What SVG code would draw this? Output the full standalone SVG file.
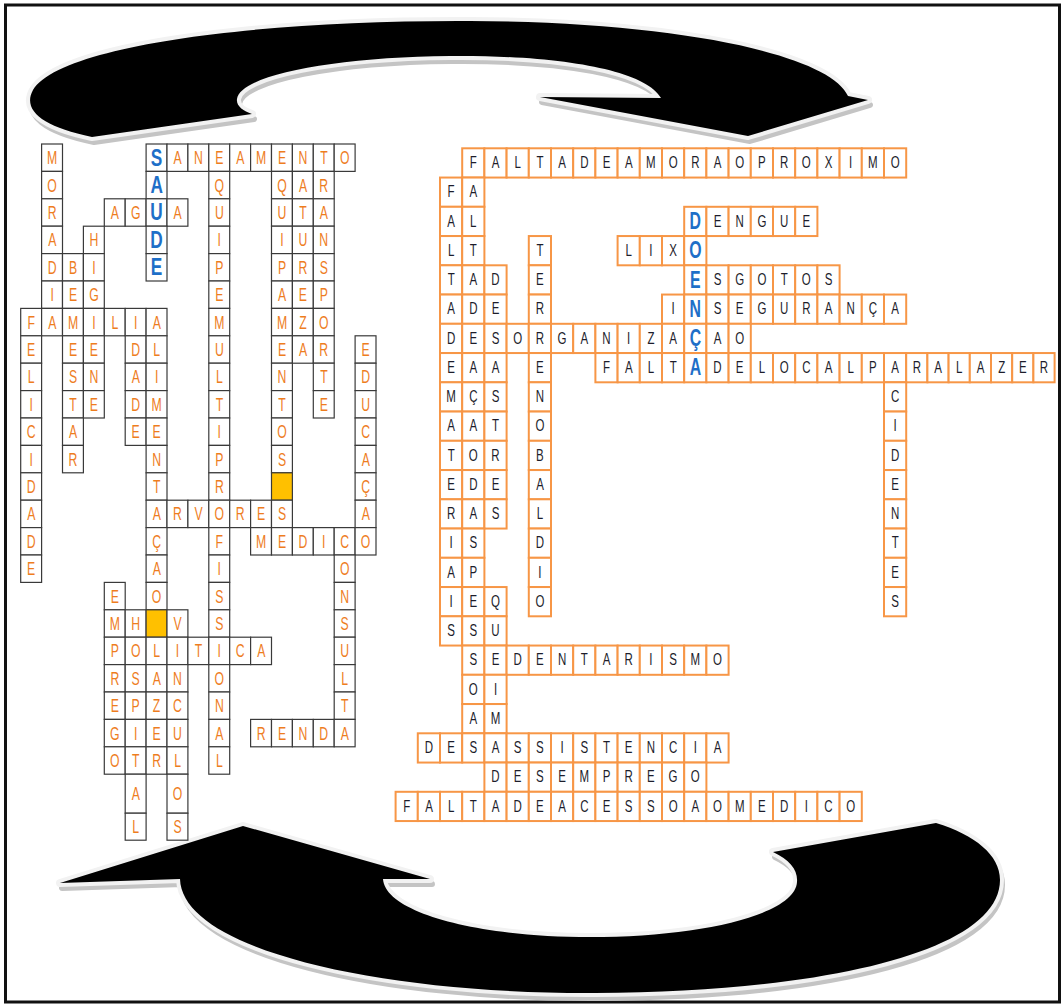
<svg xmlns="http://www.w3.org/2000/svg" xmlns:xlink="http://www.w3.org/1999/xlink" width="1063" height="1005" viewBox="0 0 1063 1005">
<style>
.L rect{width:20.9px;height:27.4px;fill:#fff;stroke:#3a3a3a;stroke-width:1.2}
.L rect.o{fill:#FFC000}
.L text{font-family:"Liberation Sans",Arial,sans-serif;font-size:18px;fill:#EE7D1E;text-anchor:middle;dominant-baseline:central;transform-box:fill-box;transform-origin:center;transform:scaleX(0.68)}
.L text.b{font-weight:bold;font-size:23px;fill:#1E6FC8;transform:scaleX(0.75)}
.R rect{width:22.2px;height:29.25px;fill:#fff;stroke:#F79646;stroke-width:2}
.R text{font-family:"Liberation Sans",Arial,sans-serif;font-size:16px;fill:#1d1d2b;text-anchor:middle;dominant-baseline:central;transform-box:fill-box;transform-origin:center;transform:scaleX(0.72)}
.R text.b{font-weight:bold;font-size:24px;fill:#1E6FC8;transform:scaleX(0.66)}
</style>
<defs>
<path id="ta" d="M 92 137 C 42 127 22 110 33 90 C 60 45 260 20 470 21 C 680 22 830 55 848 96 L 868 100 L 748 136 L 540 97 L 661 98 C 645 70 560 55 450 56 C 335 57 240 75 237 99 C 236 106 243 111 252 114 Z"/>
<path id="ba" d="M 180 879 C 182 950 380 994 595 993 C 830 992 1000 950 1000 880 C 1000 855 975 835 936 823 L 773 852 C 790 860 798 870 797 882 C 795 915 700 937 590 937 C 475 937 385 912 383 879 L 430 879 L 243 826 L 60 883 Z"/>
</defs>
<rect x="0" y="0" width="1063" height="1005" fill="#fff"/>
<rect id="frame" x="5.5" y="5" width="1054" height="997" fill="none" stroke="#111" stroke-width="3"/>
<g id="arrow-top">
<use href="#ta" transform="translate(2,5)" fill="#c4c4c4" stroke="#c4c4c4" stroke-width="6" stroke-linejoin="round"/>
<use href="#ta" fill="#fff" stroke="#f2f2f2" stroke-width="8" stroke-linejoin="round"/>
<use href="#ta" fill="#000"/>
</g>
<g id="arrow-bottom">
<use href="#ba" transform="translate(2,5)" fill="#c4c4c4" stroke="#c4c4c4" stroke-width="6" stroke-linejoin="round"/>
<use href="#ba" fill="#fff" stroke="#f2f2f2" stroke-width="8" stroke-linejoin="round"/>
<use href="#ba" fill="#000"/>
</g>
<g id="crossword-saude" class="L">
<g id="l-r0" transform="translate(0,144)">
<rect x="41.6"/><rect x="146.1"/><rect x="167"/><rect x="187.9"/><rect x="208.8"/><rect x="229.7"/><rect x="250.6"/><rect x="271.5"/><rect x="292.4"/><rect x="313.3"/><rect x="334.2"/>
<text x="52.1" y="13.7">M</text><text class="b" x="156.6" y="13.7">S</text><text x="177.5" y="13.7">A</text><text x="198.4" y="13.7">N</text><text x="219.3" y="13.7">E</text><text x="240.2" y="13.7">A</text><text x="261.1" y="13.7">M</text><text x="282" y="13.7">E</text><text x="302.9" y="13.7">N</text><text x="323.8" y="13.7">T</text><text x="344.7" y="13.7">O</text>
</g>
<g id="l-r1" transform="translate(0,171.4)">
<rect x="41.6"/><rect x="146.1"/><rect x="208.8"/><rect x="271.5"/><rect x="292.4"/><rect x="313.3"/>
<text x="52.1" y="13.7">O</text><text class="b" x="156.6" y="13.7">A</text><text x="219.3" y="13.7">Q</text><text x="282" y="13.7">Q</text><text x="302.9" y="13.7">A</text><text x="323.8" y="13.7">R</text>
</g>
<g id="l-r2" transform="translate(0,198.8)">
<rect x="41.6"/><rect x="104.3"/><rect x="125.2"/><rect x="146.1"/><rect x="167"/><rect x="208.8"/><rect x="271.5"/><rect x="292.4"/><rect x="313.3"/>
<text x="52.1" y="13.7">R</text><text x="114.8" y="13.7">A</text><text x="135.7" y="13.7">G</text><text class="b" x="156.6" y="13.7">U</text><text x="177.5" y="13.7">A</text><text x="219.3" y="13.7">U</text><text x="282" y="13.7">U</text><text x="302.9" y="13.7">T</text><text x="323.8" y="13.7">A</text>
</g>
<g id="l-r3" transform="translate(0,226.2)">
<rect x="41.6"/><rect x="83.4"/><rect x="146.1"/><rect x="208.8"/><rect x="271.5"/><rect x="292.4"/><rect x="313.3"/>
<text x="52.1" y="13.7">A</text><text x="93.9" y="13.7">H</text><text class="b" x="156.6" y="13.7">D</text><text x="219.3" y="13.7">I</text><text x="282" y="13.7">I</text><text x="302.9" y="13.7">U</text><text x="323.8" y="13.7">N</text>
</g>
<g id="l-r4" transform="translate(0,253.6)">
<rect x="41.6"/><rect x="62.5"/><rect x="83.4"/><rect x="146.1"/><rect x="208.8"/><rect x="271.5"/><rect x="292.4"/><rect x="313.3"/>
<text x="52.1" y="13.7">D</text><text x="73" y="13.7">B</text><text x="93.9" y="13.7">I</text><text class="b" x="156.6" y="13.7">E</text><text x="219.3" y="13.7">P</text><text x="282" y="13.7">P</text><text x="302.9" y="13.7">R</text><text x="323.8" y="13.7">S</text>
</g>
<g id="l-r5" transform="translate(0,281)">
<rect x="41.6"/><rect x="62.5"/><rect x="83.4"/><rect x="208.8"/><rect x="271.5"/><rect x="292.4"/><rect x="313.3"/>
<text x="52.1" y="13.7">I</text><text x="73" y="13.7">E</text><text x="93.9" y="13.7">G</text><text x="219.3" y="13.7">E</text><text x="282" y="13.7">A</text><text x="302.9" y="13.7">E</text><text x="323.8" y="13.7">P</text>
</g>
<g id="l-r6" transform="translate(0,308.4)">
<rect x="20.7"/><rect x="41.6"/><rect x="62.5"/><rect x="83.4"/><rect x="104.3"/><rect x="125.2"/><rect x="146.1"/><rect x="208.8"/><rect x="271.5"/><rect x="292.4"/><rect x="313.3"/>
<text x="31.2" y="13.7">F</text><text x="52.1" y="13.7">A</text><text x="73" y="13.7">M</text><text x="93.9" y="13.7">I</text><text x="114.8" y="13.7">L</text><text x="135.7" y="13.7">I</text><text x="156.6" y="13.7">A</text><text x="219.3" y="13.7">M</text><text x="282" y="13.7">M</text><text x="302.9" y="13.7">Z</text><text x="323.8" y="13.7">O</text>
</g>
<g id="l-r7" transform="translate(0,335.8)">
<rect x="20.7"/><rect x="62.5"/><rect x="83.4"/><rect x="125.2"/><rect x="146.1"/><rect x="208.8"/><rect x="271.5"/><rect x="292.4"/><rect x="313.3"/><rect x="355.1"/>
<text x="31.2" y="13.7">E</text><text x="73" y="13.7">E</text><text x="93.9" y="13.7">E</text><text x="135.7" y="13.7">D</text><text x="156.6" y="13.7">L</text><text x="219.3" y="13.7">U</text><text x="282" y="13.7">E</text><text x="302.9" y="13.7">A</text><text x="323.8" y="13.7">R</text><text x="365.6" y="13.7">E</text>
</g>
<g id="l-r8" transform="translate(0,363.2)">
<rect x="20.7"/><rect x="62.5"/><rect x="83.4"/><rect x="125.2"/><rect x="146.1"/><rect x="208.8"/><rect x="271.5"/><rect x="313.3"/><rect x="355.1"/>
<text x="31.2" y="13.7">L</text><text x="73" y="13.7">S</text><text x="93.9" y="13.7">N</text><text x="135.7" y="13.7">A</text><text x="156.6" y="13.7">I</text><text x="219.3" y="13.7">L</text><text x="282" y="13.7">N</text><text x="323.8" y="13.7">T</text><text x="365.6" y="13.7">D</text>
</g>
<g id="l-r9" transform="translate(0,390.6)">
<rect x="20.7"/><rect x="62.5"/><rect x="83.4"/><rect x="125.2"/><rect x="146.1"/><rect x="208.8"/><rect x="271.5"/><rect x="313.3"/><rect x="355.1"/>
<text x="31.2" y="13.7">I</text><text x="73" y="13.7">T</text><text x="93.9" y="13.7">E</text><text x="135.7" y="13.7">D</text><text x="156.6" y="13.7">M</text><text x="219.3" y="13.7">T</text><text x="282" y="13.7">T</text><text x="323.8" y="13.7">E</text><text x="365.6" y="13.7">U</text>
</g>
<g id="l-r10" transform="translate(0,418)">
<rect x="20.7"/><rect x="62.5"/><rect x="125.2"/><rect x="146.1"/><rect x="208.8"/><rect x="271.5"/><rect x="355.1"/>
<text x="31.2" y="13.7">C</text><text x="73" y="13.7">A</text><text x="135.7" y="13.7">E</text><text x="156.6" y="13.7">E</text><text x="219.3" y="13.7">I</text><text x="282" y="13.7">O</text><text x="365.6" y="13.7">C</text>
</g>
<g id="l-r11" transform="translate(0,445.4)">
<rect x="20.7"/><rect x="62.5"/><rect x="146.1"/><rect x="208.8"/><rect x="271.5"/><rect x="355.1"/>
<text x="31.2" y="13.7">I</text><text x="73" y="13.7">R</text><text x="156.6" y="13.7">N</text><text x="219.3" y="13.7">P</text><text x="282" y="13.7">S</text><text x="365.6" y="13.7">A</text>
</g>
<g id="l-r12" transform="translate(0,472.8)">
<rect x="20.7"/><rect x="146.1"/><rect x="208.8"/><rect class="o" x="271.5"/><rect x="355.1"/>
<text x="31.2" y="13.7">D</text><text x="156.6" y="13.7">T</text><text x="219.3" y="13.7">R</text><text x="365.6" y="13.7">Ç</text>
</g>
<g id="l-r13" transform="translate(0,500.2)">
<rect x="20.7"/><rect x="146.1"/><rect x="167"/><rect x="187.9"/><rect x="208.8"/><rect x="229.7"/><rect x="250.6"/><rect x="271.5"/><rect x="355.1"/>
<text x="31.2" y="13.7">A</text><text x="156.6" y="13.7">A</text><text x="177.5" y="13.7">R</text><text x="198.4" y="13.7">V</text><text x="219.3" y="13.7">O</text><text x="240.2" y="13.7">R</text><text x="261.1" y="13.7">E</text><text x="282" y="13.7">S</text><text x="365.6" y="13.7">A</text>
</g>
<g id="l-r14" transform="translate(0,527.6)">
<rect x="20.7"/><rect x="146.1"/><rect x="208.8"/><rect x="250.6"/><rect x="271.5"/><rect x="292.4"/><rect x="313.3"/><rect x="334.2"/><rect x="355.1"/>
<text x="31.2" y="13.7">D</text><text x="156.6" y="13.7">Ç</text><text x="219.3" y="13.7">F</text><text x="261.1" y="13.7">M</text><text x="282" y="13.7">E</text><text x="302.9" y="13.7">D</text><text x="323.8" y="13.7">I</text><text x="344.7" y="13.7">C</text><text x="365.6" y="13.7">O</text>
</g>
<g id="l-r15" transform="translate(0,555)">
<rect x="20.7"/><rect x="146.1"/><rect x="208.8"/><rect x="334.2"/>
<text x="31.2" y="13.7">E</text><text x="156.6" y="13.7">A</text><text x="219.3" y="13.7">I</text><text x="344.7" y="13.7">O</text>
</g>
<g id="l-r16" transform="translate(0,582.4)">
<rect x="104.3"/><rect x="146.1"/><rect x="208.8"/><rect x="334.2"/>
<text x="114.8" y="13.7">E</text><text x="156.6" y="13.7">O</text><text x="219.3" y="13.7">S</text><text x="344.7" y="13.7">N</text>
</g>
<g id="l-r17" transform="translate(0,609.8)">
<rect x="104.3"/><rect x="125.2"/><rect class="o" x="146.1"/><rect x="167"/><rect x="208.8"/><rect x="334.2"/>
<text x="114.8" y="13.7">M</text><text x="135.7" y="13.7">H</text><text x="177.5" y="13.7">V</text><text x="219.3" y="13.7">S</text><text x="344.7" y="13.7">S</text>
</g>
<g id="l-r18" transform="translate(0,637.2)">
<rect x="104.3"/><rect x="125.2"/><rect x="146.1"/><rect x="167"/><rect x="187.9"/><rect x="208.8"/><rect x="229.7"/><rect x="250.6"/><rect x="334.2"/>
<text x="114.8" y="13.7">P</text><text x="135.7" y="13.7">O</text><text x="156.6" y="13.7">L</text><text x="177.5" y="13.7">I</text><text x="198.4" y="13.7">T</text><text x="219.3" y="13.7">I</text><text x="240.2" y="13.7">C</text><text x="261.1" y="13.7">A</text><text x="344.7" y="13.7">U</text>
</g>
<g id="l-r19" transform="translate(0,664.6)">
<rect x="104.3"/><rect x="125.2"/><rect x="146.1"/><rect x="167"/><rect x="208.8"/><rect x="334.2"/>
<text x="114.8" y="13.7">R</text><text x="135.7" y="13.7">S</text><text x="156.6" y="13.7">A</text><text x="177.5" y="13.7">N</text><text x="219.3" y="13.7">O</text><text x="344.7" y="13.7">L</text>
</g>
<g id="l-r20" transform="translate(0,692)">
<rect x="104.3"/><rect x="125.2"/><rect x="146.1"/><rect x="167"/><rect x="208.8"/><rect x="334.2"/>
<text x="114.8" y="13.7">E</text><text x="135.7" y="13.7">P</text><text x="156.6" y="13.7">Z</text><text x="177.5" y="13.7">C</text><text x="219.3" y="13.7">N</text><text x="344.7" y="13.7">T</text>
</g>
<g id="l-r21" transform="translate(0,719.4)">
<rect x="104.3"/><rect x="125.2"/><rect x="146.1"/><rect x="167"/><rect x="208.8"/><rect x="250.6"/><rect x="271.5"/><rect x="292.4"/><rect x="313.3"/><rect x="334.2"/>
<text x="114.8" y="13.7">G</text><text x="135.7" y="13.7">I</text><text x="156.6" y="13.7">E</text><text x="177.5" y="13.7">U</text><text x="219.3" y="13.7">A</text><text x="261.1" y="13.7">R</text><text x="282" y="13.7">E</text><text x="302.9" y="13.7">N</text><text x="323.8" y="13.7">D</text><text x="344.7" y="13.7">A</text>
</g>
<g id="l-r22" transform="translate(0,746.8)">
<rect x="104.3"/><rect x="125.2"/><rect x="146.1"/><rect x="167"/><rect x="208.8"/>
<text x="114.8" y="13.7">O</text><text x="135.7" y="13.7">T</text><text x="156.6" y="13.7">R</text><text x="177.5" y="13.7">L</text><text x="219.3" y="13.7">L</text>
</g>
<g id="l-r23" transform="translate(0,774.2)">
<rect x="125.2" style="height:39px"/><rect x="167" style="height:39px"/>
<text x="135.7" y="19.5">A</text><text x="177.5" y="19.5">O</text>
</g>
<g id="l-r24" transform="translate(0,813.2)">
<rect x="125.2" style="height:27px"/><rect x="167" style="height:27px"/>
<text x="135.7" y="13.5">L</text><text x="177.5" y="13.5">S</text>
</g>
</g>
<g id="crossword-doenca" class="R">
<g id="r-r0" transform="translate(0,148.3)">
<rect x="462.2"/><rect x="484.4"/><rect x="506.6"/><rect x="528.8"/><rect x="551"/><rect x="573.2"/><rect x="595.4"/><rect x="617.6"/><rect x="639.8"/><rect x="662"/><rect x="684.2"/><rect x="706.4"/><rect x="728.6"/><rect x="750.8"/><rect x="773"/><rect x="795.2"/><rect x="817.4"/><rect x="839.6"/><rect x="861.8"/><rect x="884"/>
<text x="473.3" y="14">F</text><text x="495.5" y="14">A</text><text x="517.7" y="14">L</text><text x="539.9" y="14">T</text><text x="562.1" y="14">A</text><text x="584.3" y="14">D</text><text x="606.5" y="14">E</text><text x="628.7" y="14">A</text><text x="650.9" y="14">M</text><text x="673.1" y="14">O</text><text x="695.3" y="14">R</text><text x="717.5" y="14">A</text><text x="739.7" y="14">O</text><text x="761.9" y="14">P</text><text x="784.1" y="14">R</text><text x="806.3" y="14">O</text><text x="828.5" y="14">X</text><text x="850.7" y="14">I</text><text x="872.9" y="14">M</text><text x="895.1" y="14">O</text>
</g>
<g id="r-r1" transform="translate(0,177.55)">
<rect x="440"/><rect x="462.2"/>
<text x="451.1" y="14">F</text><text x="473.3" y="14">A</text>
</g>
<g id="r-r2" transform="translate(0,206.8)">
<rect x="440"/><rect x="462.2"/><rect x="684.2"/><rect x="706.4"/><rect x="728.6"/><rect x="750.8"/><rect x="773"/><rect x="795.2"/>
<text x="451.1" y="14">A</text><text x="473.3" y="14">L</text><text class="b" x="695.3" y="14">D</text><text x="717.5" y="14">E</text><text x="739.7" y="14">N</text><text x="761.9" y="14">G</text><text x="784.1" y="14">U</text><text x="806.3" y="14">E</text>
</g>
<g id="r-r3" transform="translate(0,236.05)">
<rect x="440"/><rect x="462.2"/><rect x="528.8"/><rect x="617.6"/><rect x="639.8"/><rect x="662"/><rect x="684.2"/>
<text x="451.1" y="14">L</text><text x="473.3" y="14">T</text><text x="539.9" y="14">T</text><text x="628.7" y="14">L</text><text x="650.9" y="14">I</text><text x="673.1" y="14">X</text><text class="b" x="695.3" y="14">O</text>
</g>
<g id="r-r4" transform="translate(0,265.3)">
<rect x="440"/><rect x="462.2"/><rect x="484.4"/><rect x="528.8"/><rect x="684.2"/><rect x="706.4"/><rect x="728.6"/><rect x="750.8"/><rect x="773"/><rect x="795.2"/><rect x="817.4"/>
<text x="451.1" y="14">T</text><text x="473.3" y="14">A</text><text x="495.5" y="14">D</text><text x="539.9" y="14">E</text><text class="b" x="695.3" y="14">E</text><text x="717.5" y="14">S</text><text x="739.7" y="14">G</text><text x="761.9" y="14">O</text><text x="784.1" y="14">T</text><text x="806.3" y="14">O</text><text x="828.5" y="14">S</text>
</g>
<g id="r-r5" transform="translate(0,294.55)">
<rect x="440"/><rect x="462.2"/><rect x="484.4"/><rect x="528.8"/><rect x="662"/><rect x="684.2"/><rect x="706.4"/><rect x="728.6"/><rect x="750.8"/><rect x="773"/><rect x="795.2"/><rect x="817.4"/><rect x="839.6"/><rect x="861.8"/><rect x="884"/>
<text x="451.1" y="14">A</text><text x="473.3" y="14">D</text><text x="495.5" y="14">E</text><text x="539.9" y="14">R</text><text x="673.1" y="14">I</text><text class="b" x="695.3" y="14">N</text><text x="717.5" y="14">S</text><text x="739.7" y="14">E</text><text x="761.9" y="14">G</text><text x="784.1" y="14">U</text><text x="806.3" y="14">R</text><text x="828.5" y="14">A</text><text x="850.7" y="14">N</text><text x="872.9" y="14">Ç</text><text x="895.1" y="14">A</text>
</g>
<g id="r-r6" transform="translate(0,323.8)">
<rect x="440"/><rect x="462.2"/><rect x="484.4"/><rect x="506.6"/><rect x="528.8"/><rect x="551"/><rect x="573.2"/><rect x="595.4"/><rect x="617.6"/><rect x="639.8"/><rect x="662"/><rect x="684.2"/><rect x="706.4"/><rect x="728.6"/>
<text x="451.1" y="14">D</text><text x="473.3" y="14">E</text><text x="495.5" y="14">S</text><text x="517.7" y="14">O</text><text x="539.9" y="14">R</text><text x="562.1" y="14">G</text><text x="584.3" y="14">A</text><text x="606.5" y="14">N</text><text x="628.7" y="14">I</text><text x="650.9" y="14">Z</text><text x="673.1" y="14">A</text><text class="b" x="695.3" y="14">Ç</text><text x="717.5" y="14">A</text><text x="739.7" y="14">O</text>
</g>
<g id="r-r7" transform="translate(0,353.05)">
<rect x="440"/><rect x="462.2"/><rect x="484.4"/><rect x="528.8"/><rect x="595.4"/><rect x="617.6"/><rect x="639.8"/><rect x="662"/><rect x="684.2"/><rect x="706.4"/><rect x="728.6"/><rect x="750.8"/><rect x="773"/><rect x="795.2"/><rect x="817.4"/><rect x="839.6"/><rect x="861.8"/><rect x="884"/>
<rect x="906.2" style="width:21.2px"/><rect x="927.4" style="width:21.2px"/><rect x="948.6" style="width:21.2px"/><rect x="969.8" style="width:21.2px"/><rect x="991" style="width:21.2px"/><rect x="1012.2" style="width:21.2px"/><rect x="1033.4" style="width:21.2px"/>
<text x="451.1" y="14">E</text><text x="473.3" y="14">A</text><text x="495.5" y="14">A</text><text x="539.9" y="14">E</text><text x="606.5" y="14">F</text><text x="628.7" y="14">A</text><text x="650.9" y="14">L</text><text x="673.1" y="14">T</text><text class="b" x="695.3" y="14">A</text><text x="717.5" y="14">D</text><text x="739.7" y="14">E</text><text x="761.9" y="14">L</text><text x="784.1" y="14">O</text><text x="806.3" y="14">C</text><text x="828.5" y="14">A</text><text x="850.7" y="14">L</text><text x="872.9" y="14">P</text><text x="895.1" y="14">A</text><text x="916.8" y="14">R</text><text x="938" y="14">A</text><text x="959.2" y="14">L</text><text x="980.4" y="14">A</text><text x="1001.6" y="14">Z</text><text x="1022.8" y="14">E</text><text x="1044" y="14">R</text>
</g>
<g id="r-r8" transform="translate(0,382.3)">
<rect x="440"/><rect x="462.2"/><rect x="484.4"/><rect x="528.8"/><rect x="884"/>
<text x="451.1" y="14">M</text><text x="473.3" y="14">Ç</text><text x="495.5" y="14">S</text><text x="539.9" y="14">N</text><text x="895.1" y="14">C</text>
</g>
<g id="r-r9" transform="translate(0,411.55)">
<rect x="440"/><rect x="462.2"/><rect x="484.4"/><rect x="528.8"/><rect x="884"/>
<text x="451.1" y="14">A</text><text x="473.3" y="14">A</text><text x="495.5" y="14">T</text><text x="539.9" y="14">O</text><text x="895.1" y="14">I</text>
</g>
<g id="r-r10" transform="translate(0,440.8)">
<rect x="440"/><rect x="462.2"/><rect x="484.4"/><rect x="528.8"/><rect x="884"/>
<text x="451.1" y="14">T</text><text x="473.3" y="14">O</text><text x="495.5" y="14">R</text><text x="539.9" y="14">B</text><text x="895.1" y="14">D</text>
</g>
<g id="r-r11" transform="translate(0,470.05)">
<rect x="440"/><rect x="462.2"/><rect x="484.4"/><rect x="528.8"/><rect x="884"/>
<text x="451.1" y="14">E</text><text x="473.3" y="14">D</text><text x="495.5" y="14">E</text><text x="539.9" y="14">A</text><text x="895.1" y="14">E</text>
</g>
<g id="r-r12" transform="translate(0,499.3)">
<rect x="440"/><rect x="462.2"/><rect x="484.4"/><rect x="528.8"/><rect x="884"/>
<text x="451.1" y="14">R</text><text x="473.3" y="14">A</text><text x="495.5" y="14">S</text><text x="539.9" y="14">L</text><text x="895.1" y="14">N</text>
</g>
<g id="r-r13" transform="translate(0,528.55)">
<rect x="440"/><rect x="462.2"/><rect x="528.8"/><rect x="884"/>
<text x="451.1" y="14">I</text><text x="473.3" y="14">S</text><text x="539.9" y="14">D</text><text x="895.1" y="14">T</text>
</g>
<g id="r-r14" transform="translate(0,557.8)">
<rect x="440"/><rect x="462.2"/><rect x="528.8"/><rect x="884"/>
<text x="451.1" y="14">A</text><text x="473.3" y="14">P</text><text x="539.9" y="14">I</text><text x="895.1" y="14">E</text>
</g>
<g id="r-r15" transform="translate(0,587.05)">
<rect x="440"/><rect x="462.2"/><rect x="484.4"/><rect x="528.8"/><rect x="884"/>
<text x="451.1" y="14">I</text><text x="473.3" y="14">E</text><text x="495.5" y="14">Q</text><text x="539.9" y="14">O</text><text x="895.1" y="14">S</text>
</g>
<g id="r-r16" transform="translate(0,616.3)">
<rect x="440"/><rect x="462.2"/><rect x="484.4"/>
<text x="451.1" y="14">S</text><text x="473.3" y="14">S</text><text x="495.5" y="14">U</text>
</g>
<g id="r-r17" transform="translate(0,645.55)">
<rect x="462.2"/><rect x="484.4"/><rect x="506.6"/><rect x="528.8"/><rect x="551"/><rect x="573.2"/><rect x="595.4"/><rect x="617.6"/><rect x="639.8"/><rect x="662"/><rect x="684.2"/><rect x="706.4"/>
<text x="473.3" y="14">S</text><text x="495.5" y="14">E</text><text x="517.7" y="14">D</text><text x="539.9" y="14">E</text><text x="562.1" y="14">N</text><text x="584.3" y="14">T</text><text x="606.5" y="14">A</text><text x="628.7" y="14">R</text><text x="650.9" y="14">I</text><text x="673.1" y="14">S</text><text x="695.3" y="14">M</text><text x="717.5" y="14">O</text>
</g>
<g id="r-r18" transform="translate(0,674.8)">
<rect x="462.2"/><rect x="484.4"/>
<text x="473.3" y="14">O</text><text x="495.5" y="14">I</text>
</g>
<g id="r-r19" transform="translate(0,704.05)">
<rect x="462.2"/><rect x="484.4"/>
<text x="473.3" y="14">A</text><text x="495.5" y="14">M</text>
</g>
<g id="r-r20" transform="translate(0,733.3)">
<rect x="417.8"/><rect x="440"/><rect x="462.2"/><rect x="484.4"/><rect x="506.6"/><rect x="528.8"/><rect x="551"/><rect x="573.2"/><rect x="595.4"/><rect x="617.6"/><rect x="639.8"/><rect x="662"/><rect x="684.2"/><rect x="706.4"/>
<text x="428.9" y="14">D</text><text x="451.1" y="14">E</text><text x="473.3" y="14">S</text><text x="495.5" y="14">A</text><text x="517.7" y="14">S</text><text x="539.9" y="14">S</text><text x="562.1" y="14">I</text><text x="584.3" y="14">S</text><text x="606.5" y="14">T</text><text x="628.7" y="14">E</text><text x="650.9" y="14">N</text><text x="673.1" y="14">C</text><text x="695.3" y="14">I</text><text x="717.5" y="14">A</text>
</g>
<g id="r-r21" transform="translate(0,762.55)">
<rect x="484.4"/><rect x="506.6"/><rect x="528.8"/><rect x="551"/><rect x="573.2"/><rect x="595.4"/><rect x="617.6"/><rect x="639.8"/><rect x="662"/><rect x="684.2"/>
<text x="495.5" y="14">D</text><text x="517.7" y="14">E</text><text x="539.9" y="14">S</text><text x="562.1" y="14">E</text><text x="584.3" y="14">M</text><text x="606.5" y="14">P</text><text x="628.7" y="14">R</text><text x="650.9" y="14">E</text><text x="673.1" y="14">G</text><text x="695.3" y="14">O</text>
</g>
<g id="r-r22" transform="translate(0,791.8)">
<rect x="395.6"/><rect x="417.8"/><rect x="440"/><rect x="462.2"/><rect x="484.4"/><rect x="506.6"/><rect x="528.8"/><rect x="551"/><rect x="573.2"/><rect x="595.4"/><rect x="617.6"/><rect x="639.8"/><rect x="662"/><rect x="684.2"/><rect x="706.4"/><rect x="728.6"/><rect x="750.8"/><rect x="773"/><rect x="795.2"/><rect x="817.4"/><rect x="839.6"/>
<text x="406.7" y="14">F</text><text x="428.9" y="14">A</text><text x="451.1" y="14">L</text><text x="473.3" y="14">T</text><text x="495.5" y="14">A</text><text x="517.7" y="14">D</text><text x="539.9" y="14">E</text><text x="562.1" y="14">A</text><text x="584.3" y="14">C</text><text x="606.5" y="14">E</text><text x="628.7" y="14">S</text><text x="650.9" y="14">S</text><text x="673.1" y="14">O</text><text x="695.3" y="14">A</text><text x="717.5" y="14">O</text><text x="739.7" y="14">M</text><text x="761.9" y="14">E</text><text x="784.1" y="14">D</text><text x="806.3" y="14">I</text><text x="828.5" y="14">C</text><text x="850.7" y="14">O</text>
</g>
</g>
</svg>
